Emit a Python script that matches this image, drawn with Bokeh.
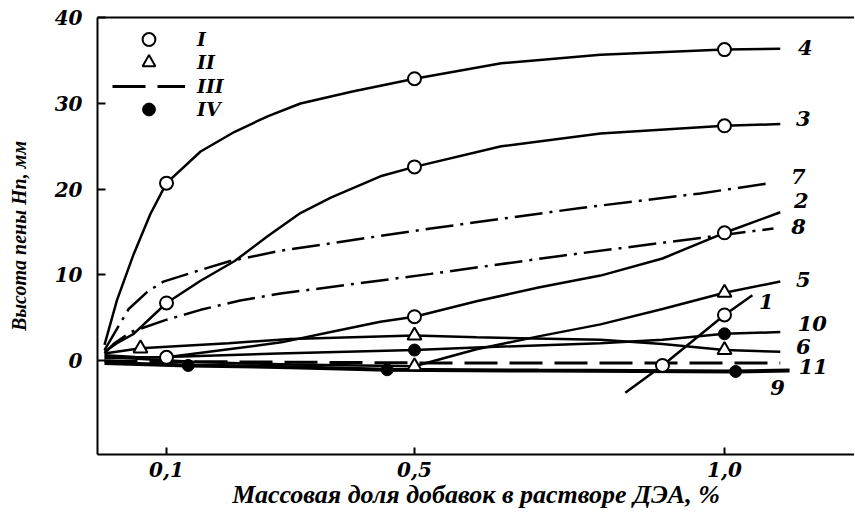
from bokeh.plotting import figure
from bokeh.models import ColumnDataSource, FixedTicker, LinearAxis, Legend, LegendItem, Range1d
from bokeh.core.properties import value
from bokeh.embed import file_html
from bokeh.resources import INLINE

# ---------------- data ----------------
x_ticks = [0.1, 0.5, 1.0]
x_tick_labels = ["0,1", "0,5", "1,0"]
y_ticks = [0, 10, 20, 30, 40]

c1_x = [0.84, 0.9, 1.0, 1.045]
c1_y = [-3.8, -0.6, 5.3, 7.6]
c2_x = [0.0, 0.05, 0.1, 0.2, 0.285, 0.365, 0.445, 0.5, 0.6, 0.7, 0.8, 0.9, 1.0, 1.09]
c2_y = [0.6, 0.4, 0.35, 1.3, 2.1, 3.3, 4.5, 5.1, 6.9, 8.5, 9.9, 11.9, 14.9, 17.3]
c3_x = [0.0, 0.02, 0.047, 0.1, 0.155, 0.21, 0.263, 0.316, 0.365, 0.445, 0.5, 0.64, 0.8, 1.0, 1.09]
c3_y = [1.0, 2.0, 3.1, 6.7, 9.3, 11.6, 14.5, 17.2, 19.0, 21.5, 22.6, 25.0, 26.5, 27.4, 27.6]
c4_x = [0.0, 0.02, 0.047, 0.074, 0.1, 0.155, 0.21, 0.263, 0.316, 0.4, 0.5, 0.64, 0.8, 1.0, 1.09]
c4_y = [1.8, 7.0, 12.4, 17.1, 20.7, 24.4, 26.7, 28.5, 30.0, 31.4, 32.9, 34.7, 35.7, 36.3, 36.4]
c5_x = [0.0, 0.15, 0.3, 0.5, 0.6, 0.7, 0.8, 0.9, 1.0, 1.09]
c5_y = [0.4, -0.2, -0.5, -0.7, 1.3, 2.8, 4.2, 6.0, 7.9, 9.2]
c6_x = [0.0, 0.058, 0.2, 0.3, 0.5, 0.6, 0.8, 0.9, 1.0, 1.09]
c6_y = [0.8, 1.4, 2.0, 2.5, 2.9, 2.7, 2.4, 1.9, 1.2, 1.0]
c7_x = [0.0, 0.039, 0.069, 0.095, 0.166, 0.203, 0.284, 0.526, 0.768, 0.961, 1.074]
c7_y = [1.2, 6.0, 8.0, 9.2, 10.8, 11.6, 12.8, 15.4, 17.8, 19.5, 20.7]
c8_x = [0.0, 0.016, 0.042, 0.098, 0.155, 0.219, 0.284, 0.526, 0.735, 0.961, 1.079]
c8_y = [0.8, 2.0, 3.3, 4.7, 5.9, 7.0, 7.8, 10.1, 12.2, 14.3, 15.4]
c9_x = [0.0, 0.135, 0.3, 0.456, 0.7, 1.018, 1.105]
c9_y = [-0.3, -0.6, -0.8, -1.1, -1.2, -1.3, -1.2]
c10_x = [0.0, 0.1, 0.28, 0.5, 0.6, 0.8, 0.9, 1.0, 1.09]
c10_y = [0.2, 0.4, 0.8, 1.2, 1.5, 2.0, 2.4, 3.1, 3.3]
c11_x = [0.0, 0.5, 1.09]
c11_y = [-0.1, -0.3, -0.3]

# markers: I - open circles, II - open triangles, IV - filled circles
m1_x = [0.1, 0.5, 1.0, 0.1, 0.5, 1.0, 0.1, 0.5, 1.0, 0.9, 1.0]
m1_y = [20.7, 32.9, 36.3, 6.7, 22.6, 27.4, 0.35, 5.1, 14.9, -0.6, 5.3]
m2_x = [0.058, 0.5, 1.0, 0.5, 1.0]
m2_y = [1.4, 2.9, 1.2, -0.7, 7.9]
m4_x = [0.135, 0.456, 1.018, 0.5, 1.0]
m4_y = [-0.6, -1.1, -1.3, 1.2, 3.1]

curve_labels = ["1", "2", "3", "4", "5", "6", "7", "8", "9", "10", "11"]
legend_labels = ["I", "II", "III", "IV"]
x_title = "Массовая доля добавок в растворе ДЭА, %"
y_title = "Высота пены Hп, мм"

# ---------------- styles ----------------
FONT = "DejaVu Serif"
TFONT = "Liberation Serif"
STYLE = "bold italic"
curves = [
    (c1_x, c1_y, "solid", 2.5), (c2_x, c2_y, "solid", 2.5), (c3_x, c3_y, "solid", 2.5),
    (c4_x, c4_y, "solid", 2.5), (c5_x, c5_y, "solid", 2.5), (c6_x, c6_y, "solid", 2.5),
    (c7_x, c7_y, "28 7 3 7", 2.5), (c8_x, c8_y, "28 7 3 7", 2.5),
    (c9_x, c9_y, "solid", 4), (c10_x, c10_y, "solid", 2.5), (c11_x, c11_y, "33 12", 3),
]
# label offsets from curve end (px): x right, y down
label_dx = [14, 21, 23, 25, 23, 23, 28, 25, -12, 32, 33]
label_dy = [6, -12, -6, -1, -2, -5, -7, -2, 17, -9, 4]
# legend rows: bottom edge of each row box, px above the frame bottom
legend_row_bottoms = [399, 376, 352, 329]

p = figure(width=854, height=513, x_range=Range1d(-0.0113, 1.2097),
           y_range=Range1d(-11, 40.05), output_backend="svg", toolbar_location=None,
           min_border_left=97, min_border_right=0, min_border_top=17, min_border_bottom=59)
p.grid.visible = False
p.outline_line_color = None

line_renderers = []
for cx, cy, dash, w in curves:
    line_renderers.append(p.line(cx, cy, line_color="black", line_width=w, line_dash=dash))

r1 = p.scatter(m1_x, m1_y, marker="circle", size=13, fill_color="white", line_color="black", line_width=2)
r2 = p.scatter(m2_x, m2_y, marker="triangle", size=14, fill_color="white", line_color="black", line_width=2)
r4 = p.scatter(m4_x, m4_y, marker="circle", size=12, fill_color="black", line_color="black")
r3 = line_renderers[10]

ends_x = [c[0][-1] for c in curves]
ends_y = [c[1][-1] for c in curves]
src = ColumnDataSource(dict(x=ends_x, y=ends_y, t=curve_labels, dx=label_dx, dy=label_dy))
p.text(x="x", y="y", text="t", x_offset="dx", y_offset="dy", source=src,
       text_font=value(FONT), text_font_style=STYLE, text_font_size="21px",
       text_align="center", text_baseline="middle", text_color="black")

# axes
ax = p.below[0]
ax.ticker = FixedTicker(ticks=x_ticks)
ax.major_label_overrides = {t: s for t, s in zip(x_ticks, x_tick_labels)}
ay = p.left[0]
ay.ticker = FixedTicker(ticks=y_ticks)
for a, tin, so in ((ax, 7, 7), (ay, 8, 15)):
    a.axis_line_width = 2
    a.axis_line_color = "black"
    a.major_tick_in = tin
    a.major_tick_out = 0
    a.major_tick_line_width = 2
    a.minor_tick_line_color = None
    a.major_label_standoff = so
    a.major_label_text_font = FONT
    a.major_label_text_font_style = STYLE
    a.major_label_text_font_size = "20px"
    a.major_label_text_color = "black"
    a.axis_label_text_font = TFONT
    a.axis_label_text_font_style = STYLE
    a.axis_label_text_color = "black"
ax.axis_label = x_title
ax.axis_label_text_font_size = "26px"
ax.axis_label_standoff = 0
ay.axis_label = y_title
ay.axis_label_text_font_size = "20px"
ay.axis_label_standoff = 22

top = LinearAxis(ticker=FixedTicker(ticks=[]), axis_line_width=2, major_tick_in=0,
                 major_tick_out=0, minor_tick_line_color=None, major_label_text_font_size="0px")
p.add_layout(top, "above")

for lab, r, vy in zip(legend_labels, [r1, r2, r3, r4], legend_row_bottoms):
    leg = Legend(items=[LegendItem(label=lab, renderers=[r])],
                 location=(15, vy), glyph_width=73, glyph_height=32, label_height=20,
                 spacing=0, padding=0, margin=0, label_standoff=12,
                 border_line_color=None, background_fill_alpha=0,
                 label_text_font=FONT, label_text_font_style=STYLE, label_text_font_size="19px",
                 label_text_color="black")
    p.add_layout(leg)

open("out.html", "w").write(file_html(p, INLINE))
